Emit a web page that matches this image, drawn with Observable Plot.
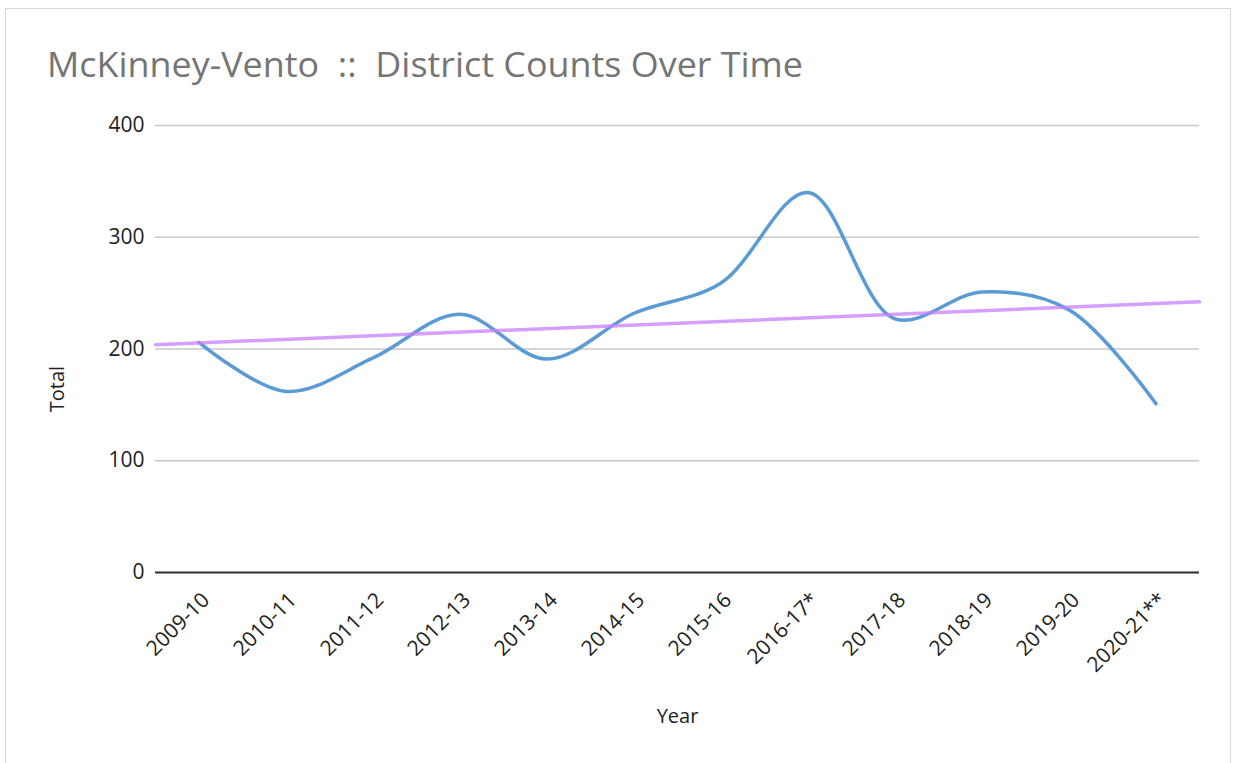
<!DOCTYPE html>
<html>
<head>
<meta charset="utf-8">
<script src="https://cdn.jsdelivr.net/npm/d3@7"></script>
<script src="https://cdn.jsdelivr.net/npm/@observablehq/plot@0.6"></script>
<style>
  html, body { margin: 0; padding: 0; background: #fff; }
  #wrap { position: relative; width: 1236px; height: 763px; overflow: hidden; }
  #frame { position: absolute; left: 5px; top: 8px; width: 1226px; height: 760px; border: 1px solid #d9d9d9; box-sizing: border-box; }
  #title { position: absolute; left: 47px; top: 40px; font-family: "Open Sans", sans-serif; font-size: 35px; color: #757575; white-space: pre; transform-origin: 0 0; }
  #chart { position: absolute; left: 0; top: 0; }
</style>
</head>
<body>
<div id="wrap">
  <div id="frame"></div>
  <div id="chart"></div>
  <div id="title">McKinney-Vento  ::  District Counts Over Time</div>
</div>
<script>
const years = ["2009-10","2010-11","2011-12","2012-13","2013-14","2014-15","2015-16","2016-17*","2017-18","2018-19","2019-20","2020-21**"];
const totals = [206, 162, 192, 231, 191, 232, 259, 340, 227, 251, 235, 151];
const yTicks = [0, 100, 200, 300, 400];

const data = years.map((y, i) => ({i, year: y, total: totals[i]}));

// linear trendline (least squares), extended across the full axis
const n = data.length;
const mx = d3.mean(data, d => d.i), my = d3.mean(data, d => d.total);
const slope = d3.sum(data, d => (d.i - mx) * (d.total - my)) / d3.sum(data, d => (d.i - mx) ** 2);
const x0 = -0.5, x1 = n - 0.5;
const trend = [x0, x1].map(x => ({i: x, total: my + slope * (x - mx)}));

const chart = Plot.plot({
  width: 1236,
  height: 763,
  marginLeft: 155,
  marginRight: 37,
  marginTop: 125,
  marginBottom: 191,
  style: {fontFamily: "'Open Sans', sans-serif", color: "#222", background: "transparent"},
  x: {domain: [x0, x1], axis: null},
  y: {domain: [0, 400], axis: null},
  marks: [
    Plot.gridY(yTicks, {stroke: "#c8c8c8", strokeOpacity: 1, strokeWidth: 1.5}),
    Plot.ruleY([0], {stroke: "#333", strokeWidth: 2}),
    // y tick labels
    Plot.text(yTicks, {x: x0, y: d => d, text: d => String(d), textAnchor: "end", dx: -11, fontSize: 21, fill: "#222"}),
    // x tick labels (rotated)
    Plot.text(data, {x: "i", y: 0, text: "year", rotate: -45, textAnchor: "end", dx: 7, dy: 24, fontSize: 21, fill: "#222"}),
    // axis titles
    Plot.text(["Total"], {frameAnchor: "left", textAnchor: "middle", dx: -98, dy: 40, rotate: -90, fontSize: 20, fill: "#222"}),
    Plot.text(["Year"], {frameAnchor: "bottom", dy: 150, fontSize: 20, fill: "#222"}),
    Plot.line(data, {x: "i", y: "total", stroke: "#5b9bd5", strokeWidth: 3.5, curve: "catmull-rom"}),
    Plot.line(trend, {x: "i", y: "total", stroke: "#c77dff", strokeOpacity: 0.75, strokeWidth: 3.5})
  ]
});
document.getElementById("chart").appendChild(chart);

// fit title width to reference span
const t = document.getElementById("title");
const w = t.getBoundingClientRect().width;
t.style.transform = `scaleX(${756 / w})`;
</script>
</body>
</html>
